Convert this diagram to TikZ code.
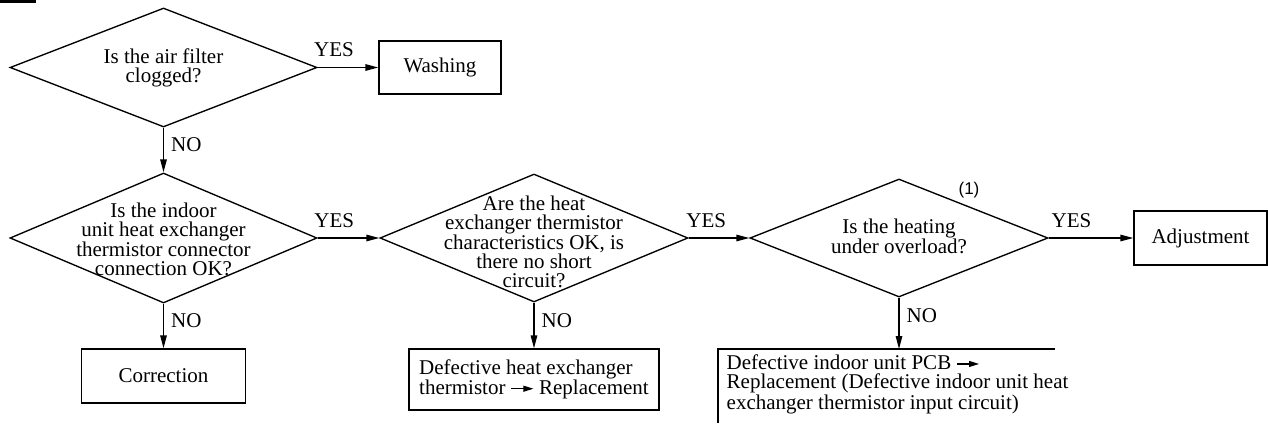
\documentclass[tikz,border=0pt]{standalone}
\usepackage{fontspec}
\setmainfont{Liberation Serif}
\setsansfont{Liberation Sans}
\usetikzlibrary{shapes.geometric,arrows.meta}
% small inline arrow used inside the action texts
\newsavebox\arrowglyph
\sbox\arrowglyph{\tikz[baseline=0pt]\draw[line width=1.1pt,-{Triangle[length=10pt,width=6pt]}] (0pt,6pt) -- (22pt,6pt);}

\begin{document}
\begin{tikzpicture}[x=1pt,y=-1pt,
  font=\fontsize{21}{19}\selectfont,
  line width=1.35pt,
  question/.style={draw, shape=diamond, inner sep=0pt},
  qtext/.style={align=center, inner sep=0pt},
  action/.style={draw, rectangle, inner sep=0pt, align=left},
  flow/.style={-{Triangle[length=13pt,width=6.5pt]}},
  yes/.style={anchor=base, inner sep=0pt, yshift=11pt},
  no/.style={anchor=west, inner sep=0pt, xshift=7pt},
]
\useasboundingbox (0,0) rectangle (1268,423);
\fill (0,0) rectangle (36,3);

% decisions
\node[question, minimum width=307pt, minimum height=119pt] (q1) at (163.5,67.5) {};
\node[qtext] (q1t) at (q1.center) {Is the air filter\\clogged?};

\node[question, minimum width=307pt, minimum height=130pt] (q2) at (163.5,238) {};
\node[qtext] (q2t) at (163.5,239) {Is the indoor\\unit heat exchanger\\thermistor connector\\connection OK?};

\node[question, minimum width=308pt, minimum height=128pt] (q3) at (534,238) {};
\node[qtext] (q3t) at (534,241.5) {Are the heat\\exchanger thermistor\\characteristics OK, is\\there no short\\circuit?};

\node[question, minimum width=298pt, minimum height=118pt] (q4) at (899,238) {};
\node[qtext] (q4t) at (899,236) {Is the heating\\under overload?};
\node[font=\sffamily\fontsize{17}{17}\selectfont, inner sep=0pt] (mark) at (969,190) {(1)};

% actions
\node[action, minimum width=122pt, minimum height=53pt] (wash) at (440,67.5) {Washing};
\node[action, minimum width=133pt, minimum height=54pt] (adj) at (1200.5,238) {Adjustment};
\node[action, minimum width=164pt, minimum height=54pt] (corr) at (163.5,376) {Correction};
\node[action, minimum width=250pt, minimum height=61pt] (repl) at (534,379.5)
  {Defective heat exchanger\\thermistor \usebox\arrowglyph\ Replacement};

% open-ended box below the last decision
\node[anchor=north west, inner sep=0pt, align=left] (pcb) at (726,354.5)
  {Defective indoor unit PCB \usebox\arrowglyph\\
   Replacement (Defective indoor unit heat\\
   exchanger thermistor input circuit)};
\coordinate (pcbtop) at (899,349);
\draw (718,423) -- (718,349) -- (1055,349);

% connectors
\draw[flow] (q1.east) -- node[yes, pos=0.27] {YES} (wash.west);
\draw[flow] (q2.east) -- node[yes, pos=0.27] {YES} (q3.west);
\draw[flow] (q3.east) -- node[yes, pos=0.29] {YES} (q4.west);
\draw[flow] (q4.east) -- node[yes, pos=0.27] {YES} (adj.west);

\draw[flow] (q1.south) -- node[no, pos=0.39] {NO} (q2.north);
\draw[flow] (q2.south) -- node[no, pos=0.37] {NO} (corr.north);
\draw[flow] (q3.south) -- node[no, pos=0.40] {NO} (repl.north);
\draw[flow] (q4.south) -- node[no, pos=0.35] {NO} (pcbtop);
\end{tikzpicture}
\end{document}
